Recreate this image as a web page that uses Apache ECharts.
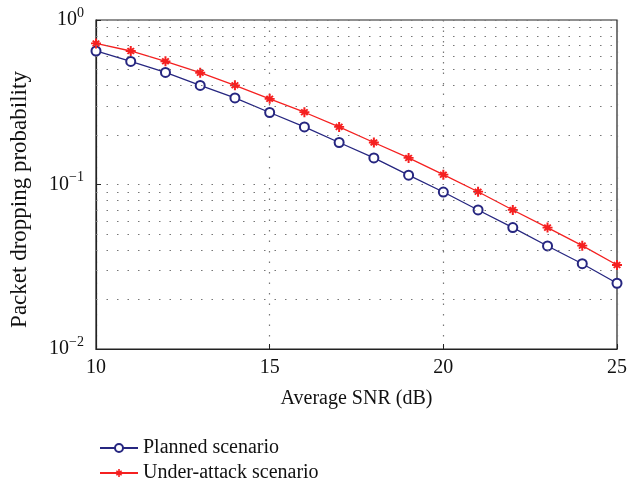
<!DOCTYPE html>
<html>
<head>
<meta charset="UTF-8">
<title>Packet dropping probability</title>
<script src="https://cdn.jsdelivr.net/npm/echarts@6/dist/echarts.min.js"></script>
</head>
<body style="margin:0">
<div id="main" style="width:631px;height:486px"></div>
<script>
var snr = [10, 11, 12, 13, 14, 15, 16, 17, 18, 19, 20, 21, 22, 23, 24, 25];
var planned = [0.648, 0.56, 0.48, 0.40, 0.336, 0.274, 0.224, 0.18, 0.145, 0.114, 0.09, 0.070, 0.0547, 0.0423, 0.033, 0.0251];
var underAttack = [0.72, 0.648, 0.561, 0.478, 0.401, 0.332, 0.275, 0.224, 0.18, 0.145, 0.1147, 0.0904, 0.070, 0.0547, 0.0425, 0.0324];
var minorLevels = [0.02, 0.03, 0.04, 0.05, 0.06, 0.07, 0.08, 0.09, 0.2, 0.3, 0.4, 0.5, 0.6, 0.7, 0.8, 0.9];
var seriesNames = ['Planned scenario', 'Under-attack scenario'];

var font = 'Liberation Serif';
// plus with a small diagonal cross in the middle, like the matlab '*' marker
var plusStar = 'path://M4,0h2v3.2l1.6,-1.6l1.4,1.4l-1.6,1.6h2.6v2h-2.6l1.6,1.6l-1.4,1.4l-1.6,-1.6v3.2h-2v-3.2l-1.6,1.6l-1.4,-1.4l1.6,-1.6h-2.6v-2h2.6l-1.6,-1.6l1.4,-1.4l1.6,1.6z';
var dotted = { type: [1.5, 9], color: '#777', width: 1.2 };

function pairs(ys) {
    return snr.map(function (x, i) { return [x, ys[i]]; });
}

function legendAt(name, top) {
    return {
        left: 94, top: top,
        itemWidth: 38, itemHeight: 10,
        textStyle: { fontFamily: font, fontSize: 20, color: '#111' },
        data: [name]
    };
}

var chart = echarts.init(document.getElementById('main'));
chart.setOption({
    animation: false,
    textStyle: { fontFamily: font },
    grid: {
        left: 95, right: 14, top: 20, bottom: 137,
        show: true, borderColor: '#222', borderWidth: 1.2
    },
    legend: [legendAt(seriesNames[0], 433), legendAt(seriesNames[1], 458)],
    xAxis: {
        type: 'value', min: 10, max: 25, interval: 5,
        name: 'Average SNR (dB)', nameLocation: 'middle', nameGap: 40,
        nameTextStyle: { fontFamily: font, fontSize: 20, color: '#111' },
        axisLine: { lineStyle: { color: '#222', width: 1.2 } },
        axisTick: { inside: true, length: 5, lineStyle: { color: '#222' } },
        axisLabel: { fontSize: 20, color: '#111', margin: 9 },
        splitLine: { show: true, lineStyle: dotted }
    },
    yAxis: {
        type: 'log', min: 0.01, max: 1, logBase: 10,
        name: 'Packet dropping probability', nameLocation: 'middle', nameGap: 65,
        nameTextStyle: { fontFamily: font, fontSize: 23, color: '#111', padding: [0, 30, 0, 0] },
        axisLine: { lineStyle: { color: '#222', width: 1.2 } },
        axisTick: { inside: true, length: 5, lineStyle: { color: '#222' } },
        axisLabel: {
            margin: 12, color: '#111',
            formatter: function (v) {
                var e = Math.round(Math.log10(v));
                return '{b|10}{s|' + (e === 0 ? '0' : '\u2212' + (-e)) + '}';
            },
            rich: {
                b: { fontFamily: font, fontSize: 20, color: '#111' },
                s: { fontFamily: font, fontSize: 14, color: '#111', verticalAlign: 'top', padding: [0, 0, 14, 0] }
            }
        },
        splitLine: { show: true, lineStyle: dotted }
    },
    series: [
        {
            name: seriesNames[0], type: 'line', data: pairs(planned),
            symbol: 'emptyCircle', symbolSize: 9,
            itemStyle: { color: '#262680', borderWidth: 1.3 },
            lineStyle: { color: '#262680', width: 1.3 },
            markLine: {
                silent: true, symbol: 'none', label: { show: false },
                lineStyle: dotted,
                data: minorLevels.map(function (v) { return { yAxis: v }; })
            },
            z: 3
        },
        {
            name: seriesNames[1], type: 'line', data: pairs(underAttack),
            symbol: plusStar, symbolSize: 10,
            itemStyle: { color: '#f52020' },
            lineStyle: { color: '#f52020', width: 1.3 },
            z: 4
        }
    ]
});
</script>
</body>
</html>
